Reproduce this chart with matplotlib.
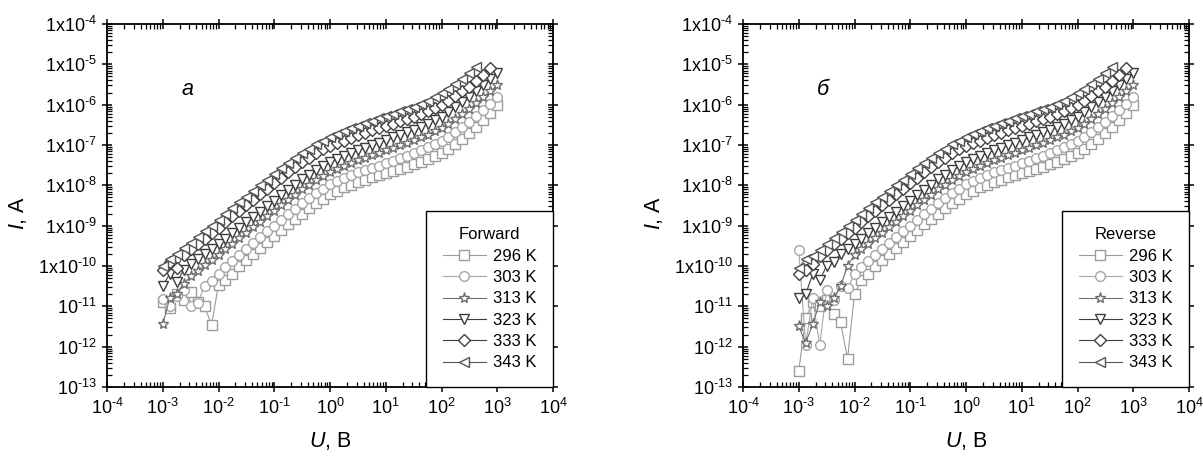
import numpy as np
import matplotlib
matplotlib.use("Agg")
import matplotlib.pyplot as plt
from matplotlib.ticker import LogLocator, NullFormatter, FuncFormatter

plt.rcParams['font.family'] = ['Liberation Sans', 'DejaVu Sans']
plt.rcParams['mathtext.fontset'] = 'custom'
plt.rcParams['mathtext.rm'] = 'Liberation Sans'
plt.rcParams['mathtext.it'] = 'Liberation Sans:italic'

# voltage points, V (8 per decade)
U = [1.00e-3, 1.33e-3, 1.78e-3, 2.37e-3, 3.16e-3, 4.22e-3, 5.62e-3, 7.50e-3,
     1.00e-2, 1.33e-2, 1.78e-2, 2.37e-2, 3.16e-2, 4.22e-2, 5.62e-2, 7.50e-2,
     1.00e-1, 1.33e-1, 1.78e-1, 2.37e-1, 3.16e-1, 4.22e-1, 5.62e-1, 7.50e-1,
     1.00e0, 1.33e0, 1.78e0, 2.37e0, 3.16e0, 4.22e0, 5.62e0, 7.50e0,
     1.00e1, 1.33e1, 1.78e1, 2.37e1, 3.16e1, 4.22e1, 5.62e1, 7.50e1,
     1.00e2, 1.33e2, 1.78e2, 2.37e2, 3.16e2, 4.22e2, 5.62e2, 7.50e2,
     1.00e3]

# log10(I, A)
F296 = [-10.9, -11.05, -10.7, -10.85, -10.65, -10.9, -11.0, -11.46,
        -10.46, -10.35, -10.2, -10.0, -9.85, -9.7, -9.55, -9.4,
        -9.25, -9.11, -8.97, -8.83, -8.7, -8.57, -8.44, -8.33,
        -8.22, -8.13, -8.05, -7.98, -7.92, -7.86, -7.8, -7.75,
        -7.7, -7.65, -7.59, -7.54, -7.48, -7.41, -7.34, -7.27,
        -7.2, -7.09, -6.97, -6.84, -6.7, -6.55, -6.38, -6.2, -6.0]
F303 = [-10.82, -11.0, -10.75, -10.6, -10.98, -10.92, -10.5, -10.38,
        -10.2, -10.02, -9.88, -9.72, -9.57, -9.42, -9.28, -9.14,
        -9.0, -8.86, -8.72, -8.58, -8.45, -8.32, -8.19, -8.08,
        -7.97, -7.89, -7.81, -7.74, -7.68, -7.62, -7.56, -7.51,
        -7.45, -7.39, -7.33, -7.27, -7.2, -7.13, -7.06, -6.98,
        -6.9, -6.79, -6.68, -6.55, -6.42, -6.28, -6.13, -5.98, -5.82]
F313 = [-11.45, -10.8, -10.7, -10.45, -10.25, -10.12, -9.98, -9.85,
        -9.72, -9.58, -9.45, -9.31, -9.18, -9.04, -8.9, -8.77,
        -8.63, -8.49, -8.36, -8.23, -8.1, -7.98, -7.87, -7.77,
        -7.68, -7.6, -7.52, -7.45, -7.38, -7.32, -7.25, -7.19,
        -7.13, -7.07, -7.0, -6.94, -6.88, -6.81, -6.74, -6.66,
        -6.58, -6.47, -6.36, -6.23, -6.1, -5.96, -5.82, -5.67, -5.52]
F323 = [-10.5, -10.2, -10.4, -10.1, -9.95, -9.82, -9.7, -9.57,
        -9.45, -9.32, -9.18, -9.05, -8.92, -8.78, -8.65, -8.51,
        -8.38, -8.24, -8.11, -7.98, -7.85, -7.74, -7.62, -7.52,
        -7.43, -7.35, -7.27, -7.2, -7.13, -7.07, -7.0, -6.94,
        -6.88, -6.81, -6.75, -6.68, -6.62, -6.55, -6.47, -6.39,
        -6.3, -6.19, -6.07, -5.94, -5.8, -5.66, -5.52, -5.37, -5.22]
F333 = [-10.1, -9.9, -10.05, -9.72, -9.58, -9.45, -9.32, -9.18,
        -9.05, -8.91, -8.77, -8.64, -8.5, -8.36, -8.22, -8.09,
        -7.95, -7.82, -7.68, -7.55, -7.43, -7.32, -7.21, -7.11,
        -7.03, -6.96, -6.89, -6.82, -6.76, -6.7, -6.64, -6.58,
        -6.52, -6.47, -6.41, -6.36, -6.3, -6.23, -6.16, -6.08,
        -6.0, -5.9, -5.79, -5.67, -5.55, -5.41, -5.26, -5.1]
F343 = [-10.0, -9.82, -9.7, -9.55, -9.42, -9.28, -9.14, -9.0,
        -8.85, -8.71, -8.56, -8.42, -8.28, -8.14, -8.0, -7.86,
        -7.72, -7.58, -7.45, -7.32, -7.2, -7.09, -6.98, -6.89,
        -6.8, -6.72, -6.65, -6.58, -6.52, -6.46, -6.4, -6.34,
        -6.28, -6.22, -6.16, -6.11, -6.05, -5.98, -5.9, -5.82,
        -5.72, -5.61, -5.49, -5.36, -5.22, -5.06]

# reverse panel: noisy low-voltage heads differ, the rest overlays the forward curves
R296 = [-12.6, -11.3, -10.9, -11.0, -10.85, -11.2, -11.4, -12.3, -10.7] + F296[9:]
R303 = [-9.6, -11.96, -10.8, -11.96, -10.6, -10.85, -10.5, -10.55] + F303[8:]
R313 = [-11.5, -11.9, -11.45, -10.9, -11.0, -10.8, -10.5, -10.0] + F313[8:]
R323 = [-10.8, -10.7, -10.2, -10.35, -10.0, -9.9, -9.7, -9.57] + F323[8:]
R333 = [-10.2, -10.1, -9.95, -9.75, -9.6, -9.45, -9.32, -9.18] + F333[8:]
R343 = [-10.05, -9.82, -9.75, -9.6, -9.45, -9.3, -9.15, -9.0] + F343[8:]

LABELS = ['296 K', '303 K', '313 K', '323 K', '333 K', '343 K']
MARKERS = ['s', 'o', '*', 'v', 'D', '<']
COLORS = ['#9c9c9c', '#a6a6a6', '#6e6e6e', '#3c3c3c', '#404040', '#555555']
SIZES = [6.5, 7, 8, 7, 6.5, 7]


def ylab(v, pos):
    e = int(round(np.log10(v)))
    if e >= -10:
        return '1x10$^{\u2010%d}$' % -e
    return '10$^{\u2010%d}$' % -e


def xlab(v, pos):
    e = int(round(np.log10(v)))
    if e < 0:
        return '10$^{\u2010%d}$' % -e
    return r'10$^{%d}$' % e


def panel(ax, series, title, letter):
    for ys, lab, m, c, ms in zip(series, LABELS, MARKERS, COLORS, SIZES):
        ax.plot(U[:len(ys)], 10.0 ** np.array(ys), marker=m, ms=ms, mfc='white',
                mec=c, mew=1.0, color=c, lw=0.8, label=lab)
    ax.set_xscale('log')
    ax.set_yscale('log')
    ax.set_xlim(1e-4, 1e4)
    ax.set_ylim(1e-13, 1e-4)
    ax.xaxis.set_major_locator(LogLocator(base=10, numticks=20))
    ax.yaxis.set_major_locator(LogLocator(base=10, numticks=20))
    for a in (ax.xaxis, ax.yaxis):
        a.set_minor_locator(LogLocator(base=10, subs=np.arange(2, 10), numticks=100))
        a.set_minor_formatter(NullFormatter())
    ax.xaxis.set_major_formatter(FuncFormatter(xlab))
    ax.yaxis.set_major_formatter(FuncFormatter(ylab))
    ax.tick_params(which='major', direction='inout', length=7, width=1.1,
                   top=True, right=True, labelsize=13, pad=4)
    ax.tick_params(which='minor', direction='in', length=3.5, width=0.9,
                   top=True, right=True)
    for s in ax.spines.values():
        s.set_linewidth(1.3)
    ax.set_xlabel(r'$\mathit{U}$, B', fontsize=15.5, labelpad=9)
    ax.set_ylabel(r'$\mathit{I}$, A', fontsize=15.5)
    ax.yaxis.set_label_coords(-0.175, 0.48)
    ax.text(0.18, 0.82, letter, transform=ax.transAxes, fontsize=15.5,
            style='italic', ha='center', va='center')
    leg = ax.legend(loc='lower right', bbox_to_anchor=(1.0, 0.0), borderaxespad=0,
                    title=title, fontsize=12, title_fontsize=12,
                    fancybox=False, framealpha=1, edgecolor='black',
                    handlelength=2.6, handletextpad=0.4, labelspacing=0.38,
                    borderpad=1.0)
    leg.get_frame().set_linewidth(1.0)


fig = plt.figure(figsize=(12.03, 4.62), dpi=100)
ax1 = fig.add_axes([107 / 1203, 75 / 462, 446 / 1203, 363 / 462])
ax2 = fig.add_axes([743 / 1203, 75 / 462, 446 / 1203, 363 / 462])
panel(ax1, [F296, F303, F313, F323, F333, F343], 'Forward', 'a')
panel(ax2, [R296, R303, R313, R323, R333, R343], 'Reverse', 'б')
fig.savefig('out.png', dpi=100)
